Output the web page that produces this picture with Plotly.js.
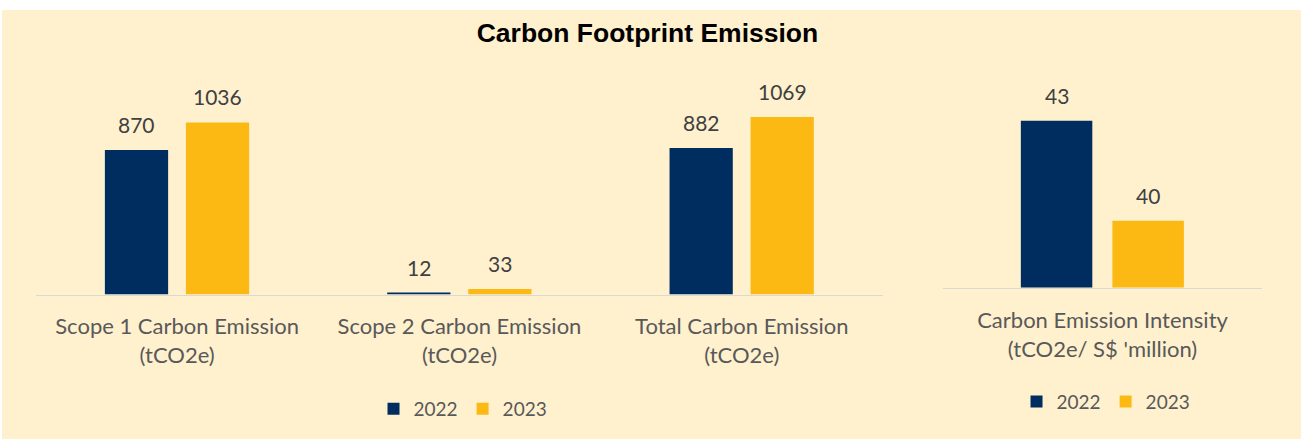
<!DOCTYPE html>
<html>
<head>
<meta charset="utf-8">
<script src="https://cdn.plot.ly/plotly-3.0.1.min.js"></script>
<style>
  html, body { margin: 0; padding: 0; background: #ffffff; }
  #chart { position: absolute; left: 2px; top: 10px; width: 1299px; height: 429px; }
</style>
</head>
<body>
<div id="chart"></div>
<script>
// ---- data ----
const emissionCategories = [
  "Scope 1 Carbon Emission<br>(tCO2e)",
  "Scope 2 Carbon Emission<br>(tCO2e)",
  "Total Carbon Emission<br>(tCO2e)"
];
const emission2022 = [870, 12, 882];
const emission2023 = [1036, 33, 1069];

const intensityCategories = ["Carbon Emission Intensity<br>(tCO2e/ S$ 'million)"];
const intensity2022 = [43];
const intensity2023 = [40];

const seriesNames = ["2022", "2023"];

// ---- style ----
const FONT = "Lato, 'Open Sans', sans-serif";
const C2022 = "#002D5F";
const C2023 = "#FCB914";
const BG = "#FFF0CE";
const W = 0.224;          // bar width (category units)
const OFF = [-0.256, 0.031]; // bar offsets (category units)

function barTrace(x, y, name, color, off, xa, ya, legend) {
  return {
    type: "bar", x: x, y: y, name: name,
    marker: { color: color, line: { width: 0 } },
    width: x.map(() => W), offset: x.map(() => off),
    xaxis: xa, yaxis: ya, legend: legend,
    hoverinfo: "skip", textposition: "none"
  };
}

const traces = [
  barTrace(emissionCategories, emission2022, seriesNames[0], C2022, OFF[0], "x", "y", "legend"),
  barTrace(emissionCategories, emission2023, seriesNames[1], C2023, OFF[1], "x", "y", "legend"),
  barTrace(intensityCategories, intensity2022, seriesNames[0], C2022, OFF[0], "x2", "y2", "legend2"),
  barTrace(intensityCategories, intensity2023, seriesNames[1], C2023, OFF[1], "x2", "y2", "legend2")
];

// data labels above bars
const annotations = [];
function addLabels(vals, off, xref, yref) {
  vals.forEach((v, i) => {
    annotations.push({
      x: i + off + W / 2, y: v, xref: xref, yref: yref,
      text: String(v), showarrow: false,
      xanchor: "center", yanchor: "bottom", yshift: 11,
      font: { family: FONT, size: 21, color: "#404040" }
    });
  });
}
addLabels(emission2022, OFF[0], "x", "y");
addLabels(emission2023, OFF[1], "x", "y");
addLabels(intensity2022, OFF[0], "x2", "y2");
addLabels(intensity2023, OFF[1], "x2", "y2");

const xCommon = {
  type: "category", showline: true, linecolor: "#D9D9D9", linewidth: 1.5,
  showgrid: false, zeroline: false, ticks: "outside",
  tickcolor: "rgba(0,0,0,0)", automargin: false,
  tickfont: { family: FONT, size: 22, color: "#595959" }
};
const yCommon = {
  showline: false, showgrid: false, zeroline: false, showticklabels: false,
  ticks: "", automargin: false
};

const layout = {
  width: 1299, height: 429,
  margin: { l: 0, r: 0, t: 0, b: 0, pad: 0 },
  paper_bgcolor: BG, plot_bgcolor: "rgba(0,0,0,0)",
  barmode: "overlay",
  title: {
    text: "<b>Carbon Footprint Emission</b>",
    x: 0.4969, xref: "container", xanchor: "center",
    y: 0.948, yref: "container", yanchor: "middle",
    font: { family: "'Liberation Sans', Arial, sans-serif", size: 26.5, color: "#000000" }
  },
  xaxis: Object.assign({}, xCommon, { domain: [0.02617, 0.6782], anchor: "y", range: [-0.5, 2.5], ticklen: 12 }),
  yaxis: Object.assign({}, yCommon, { domain: [0.3368, 0.9068], anchor: "x", range: [0, 1472] }),
  xaxis2: Object.assign({}, xCommon, { domain: [0.7244, 0.9700], anchor: "y2", range: [-0.5, 0.5], ticklen: 13 }),
  yaxis2: Object.assign({}, yCommon, { domain: [0.3531, 0.9068], anchor: "x2", range: [38, 45.125] }),
  legend: {
    orientation: "h", x: 0.3549, xanchor: "center", y: 0.0699, yanchor: "middle",
    bgcolor: "rgba(0,0,0,0)", font: { family: FONT, size: 19, color: "#595959" },
    traceorder: "normal"
  },
  legend2: {
    orientation: "h", x: 0.8499, xanchor: "center", y: 0.0869, yanchor: "middle",
    bgcolor: "rgba(0,0,0,0)", font: { family: FONT, size: 19, color: "#595959" },
    traceorder: "normal"
  },
  annotations: annotations,
  showlegend: true
};

Plotly.newPlot("chart", traces, layout, { displayModeBar: false, staticPlot: true });
</script>
</body>
</html>
